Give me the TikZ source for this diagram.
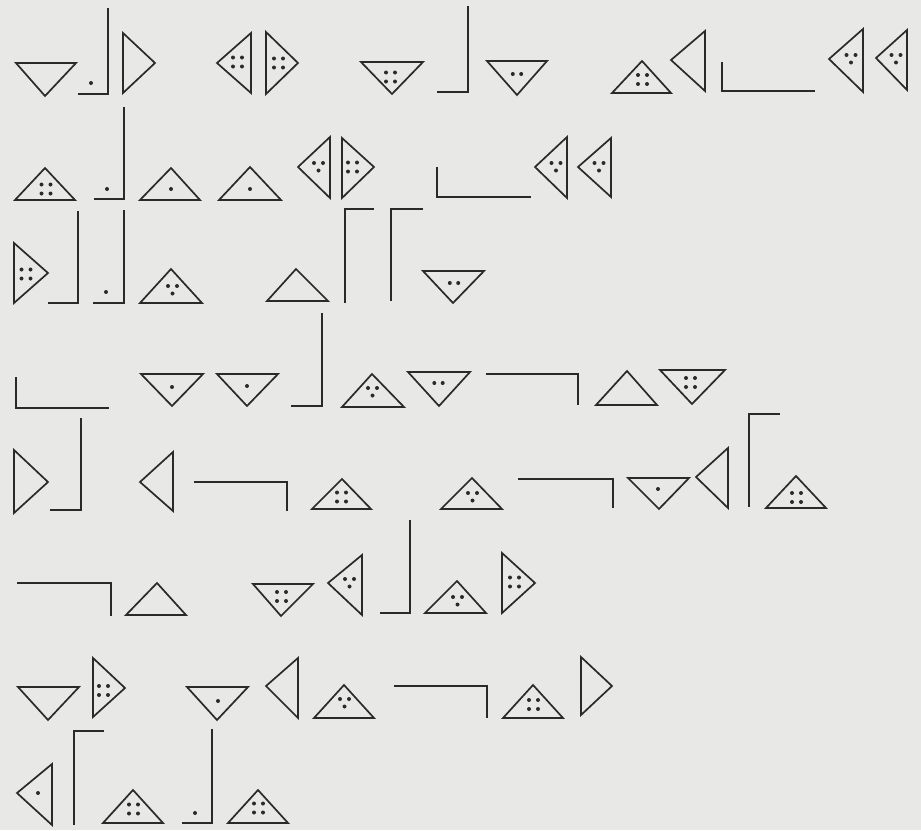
\documentclass[tikz,border=0pt]{standalone}
\definecolor{ink}{HTML}{2A2A2A}
\definecolor{paper}{HTML}{E8E8E6}
\newcommand\ptsFour[2]{\fill[ink] (#1-4.5,#2-4.5) circle (2pt) (#1+4.5,#2-4.5) circle (2pt) (#1-4.5,#2+4.5) circle (2pt) (#1+4.5,#2+4.5) circle (2pt);}
\newcommand\ptsThree[2]{\fill[ink] (#1-4.5,#2-3.5) circle (2pt) (#1+4.5,#2-3.5) circle (2pt) (#1,#2+4) circle (2pt);}
\newcommand\ptsTwo[2]{\fill[ink] (#1-4.2,#2) circle (2pt) (#1+4.2,#2) circle (2pt);}
\newcommand\ptsOne[2]{\fill[ink] (#1,#2) circle (2pt);}
\tikzset{
  shp/.style={draw=ink, line width=1.7pt, line join=miter},
  ln/.style={draw=ink, line width=1.7pt}
}
\begin{document}
\begin{tikzpicture}[x=1pt,y=-1pt]
\fill[paper] (0,0) rectangle (921,830);
\useasboundingbox (0,0) rectangle (921,830);
% Row 1
\draw[shp] (16,63)--(76,63)--(45,96)--cycle;
\draw[ln] (108,8)--(108,94)--(78,94); \ptsOne{91}{83}
\draw[shp] (123,33)--(123,93)--(155,63)--cycle;
\draw[shp] (251,33)--(251,93)--(217,63)--cycle; \ptsFour{237.5}{62}
\draw[shp] (266,32)--(266,94)--(298,63)--cycle; \ptsFour{278.5}{63}
\draw[shp] (361,62)--(423,62)--(392,94)--cycle; \ptsFour{390.5}{77}
\draw[ln] (468,6)--(468,92)--(437,92);
\draw[shp] (487,61)--(547,61)--(517,95)--cycle; \ptsTwo{517}{74}
\draw[shp] (612,93)--(671,93)--(642,61)--cycle; \ptsFour{642.5}{79.5}
\draw[shp] (705,31)--(705,91)--(671,60)--cycle;
\draw[ln] (722,62)--(722,91)--(815,91);
\draw[shp] (863,29)--(863,92)--(829,59)--cycle; \ptsThree{851}{58.5}
\draw[shp] (907,30)--(907,90)--(876,58)--cycle; \ptsThree{896}{58.5}
% Row 2
\draw[shp] (15,200)--(75,200)--(45,168)--cycle; \ptsFour{46}{189}
\draw[ln] (124,107)--(124,199)--(94,199); \ptsOne{107}{189}
\draw[shp] (140,200)--(200,200)--(171,168)--cycle; \ptsOne{171}{189}
\draw[shp] (219,200)--(281,200)--(250,167)--cycle; \ptsOne{250}{189}
\draw[shp] (330,137)--(330,198)--(298,167)--cycle; \ptsThree{318.5}{166.5}
\draw[shp] (342,138)--(342,198)--(374,167)--cycle; \ptsFour{352.5}{167}
\draw[ln] (437,167)--(437,197)--(531,197);
\draw[shp] (567,137)--(567,198)--(535,167)--cycle; \ptsThree{556}{166.5}
\draw[shp] (611,138)--(611,197)--(578,167)--cycle; \ptsThree{599}{166.5}
% Row 3
\draw[shp] (14,243)--(14,303)--(48,273)--cycle; \ptsFour{26}{274}
\draw[ln] (78,211)--(78,303)--(48,303);
\draw[ln] (124,210)--(124,303)--(93,303); \ptsOne{106}{292}
\draw[shp] (140,303)--(202,303)--(171,269)--cycle; \ptsThree{172.5}{289.5}
\draw[shp] (267,301)--(328,301)--(296,269)--cycle;
\draw[ln] (374,209)--(345,209)--(345,303);
\draw[ln] (423,209)--(391,209)--(391,301);
\draw[shp] (423,271)--(484,271)--(453,303)--cycle; \ptsTwo{454}{283}
% Row 4
\draw[ln] (16,377)--(16,408)--(109,408);
\draw[shp] (141,374)--(203,374)--(172,406)--cycle; \ptsOne{172}{387}
\draw[shp] (217,374)--(278,374)--(247,406)--cycle; \ptsOne{247}{386}
\draw[ln] (291,406)--(322,406)--(322,313);
\draw[shp] (342,407)--(404,407)--(372,374)--cycle; \ptsThree{372.5}{391.5}
\draw[shp] (408,372)--(470,372)--(439,406)--cycle; \ptsTwo{438.5}{383}
\draw[ln] (486,374)--(578,374)--(578,405);
\draw[shp] (596,405)--(657,405)--(627,371)--cycle;
\draw[shp] (660,370)--(725,370)--(692,404)--cycle; \ptsFour{690.5}{382.5}
% Row 5
\draw[shp] (14,450)--(14,513)--(48,482)--cycle;
\draw[ln] (81,418)--(81,510)--(50,510);
\draw[shp] (173,452)--(173,511)--(140,482)--cycle;
\draw[ln] (194,482)--(287,482)--(287,511);
\draw[shp] (312,509)--(371,509)--(342,479)--cycle; \ptsFour{341.5}{497}
\draw[shp] (441,509)--(502,509)--(472,478)--cycle; \ptsThree{472.5}{496.5}
\draw[ln] (518,479)--(613,479)--(613,508);
\draw[shp] (628,478)--(689,478)--(659,509)--cycle; \ptsOne{658}{489}
\draw[shp] (728,448)--(728,508)--(696,477)--cycle;
\draw[ln] (780,414)--(749,414)--(749,507);
\draw[shp] (766,508)--(826,508)--(796,476)--cycle; \ptsFour{796.5}{497.5}
% Row 6
\draw[ln] (17,583)--(111,583)--(111,616);
\draw[shp] (126,615)--(186,615)--(157,583)--cycle;
\draw[shp] (253,584)--(313,584)--(281,616)--cycle; \ptsFour{281.5}{596.5}
\draw[shp] (362,555)--(362,615)--(328,583)--cycle; \ptsThree{349.5}{582.5}
\draw[ln] (410,520)--(410,613)--(380,613);
\draw[shp] (425,613)--(486,613)--(457,581)--cycle; \ptsThree{457.5}{600.5}
\draw[shp] (502,553)--(502,613)--(535,583)--cycle; \ptsFour{514.5}{582}
% Row 7
\draw[shp] (18,687)--(79,687)--(48,720)--cycle;
\draw[shp] (93,658)--(93,717)--(125,688)--cycle; \ptsFour{103.5}{690.5}
\draw[shp] (187,687)--(248,687)--(217,720)--cycle; \ptsOne{218}{701}
\draw[shp] (298,658)--(298,718)--(266,686)--cycle;
\draw[shp] (314,718)--(374,718)--(344,685)--cycle; \ptsThree{344.5}{702.5}
\draw[ln] (394,686)--(487,686)--(487,718);
\draw[shp] (503,718)--(563,718)--(533,685)--cycle; \ptsFour{533.5}{704.5}
\draw[shp] (581,657)--(581,715)--(612,686)--cycle;
% Row 8
\draw[shp] (52,764)--(52,825)--(17,793)--cycle; \ptsOne{38}{793}
\draw[ln] (104,731)--(74,731)--(74,825);
\draw[shp] (103,823)--(163,823)--(133,790)--cycle; \ptsFour{133.5}{809}
\draw[ln] (212,729)--(212,823)--(182,823); \ptsOne{195}{813}
\draw[shp] (228,823)--(288,823)--(258,790)--cycle; \ptsFour{258.5}{808}
\end{tikzpicture}
\end{document}
